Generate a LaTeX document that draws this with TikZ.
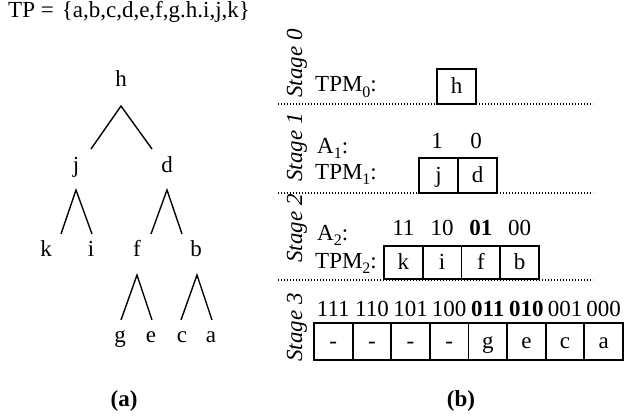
\documentclass[tikz,border=0pt]{standalone}
\usepackage{fontspec}
\setmainfont{Liberation Serif}
\newcommand\mysub[1]{\raisebox{-0.24em}{\fontsize{16}{16}\selectfont #1}}
\begin{document}
\begin{tikzpicture}[x=1pt,y=-1pt,
  every node/.style={font=\fontsize{23}{27}\selectfont, inner sep=0pt},
  lbl/.style={anchor=base},
  lblw/.style={anchor=base west},
  stagelbl/.style={rotate=90, anchor=base west, font=\fontsize{23}{27}\selectfont\itshape},
  cell/.style n args={2}{draw, line width=1.8pt, minimum width=#1, minimum height=#2, text height=15pt, text depth=2pt},
  tree/.style={line width=1.4pt},
  sep/.style={line width=1.3pt, dash pattern=on 1.3pt off 1.7pt}]
\useasboundingbox (0,0) rectangle (624,420);

% title
\node[lblw] (tp) at (8,18) {TP =\hspace{0.35em}\{a,b,c,d,e,f,g.h.i,j,k\}};

% tree
\node[lbl] (h) at (121,86) {h};
\node[lbl] (j) at (76,172) {j};
\node[lbl] (d) at (167,172) {d};
\node[lbl] (k) at (46,256) {k};
\node[lbl] (i) at (91,256) {i};
\node[lbl] (f) at (137,256) {f};
\node[lbl] (b) at (196,256) {b};
\node[lbl] (g) at (120,342) {g};
\node[lbl] (e) at (151,342) {e};
\node[lbl] (c) at (182,342) {c};
\node[lbl] (a) at (211,342) {a};

\coordinate (h-ap) at (121,106); \coordinate (h-l) at (91,149); \coordinate (h-r) at (152,149);
\coordinate (j-ap) at (76,190);  \coordinate (j-l) at (61,234); \coordinate (j-r) at (92,234);
\coordinate (d-ap) at (167,190); \coordinate (d-l) at (151,234); \coordinate (d-r) at (182,234);
\coordinate (f-ap) at (137,275); \coordinate (f-l) at (121,320); \coordinate (f-r) at (152,320);
\coordinate (b-ap) at (197,275); \coordinate (b-l) at (181,320); \coordinate (b-r) at (212,320);
\foreach \p in {h,j,d,f,b}{\draw[tree] (\p-l) -- (\p-ap) -- (\p-r);}

\node[lbl] (capa) at (124,406) {\textbf{(a)}};
\node[lbl] (capb) at (461,406) {\textbf{(b)}};

% stage labels
\node[stagelbl] (s0) at (302,98) {Stage 0};
\node[stagelbl] (s1) at (302,182) {Stage 1};
\node[stagelbl] (s2) at (302,263) {Stage 2};
\node[stagelbl] (s3) at (302,362) {Stage 3};

% separators
\draw[sep] (278,104) -- (593,104);
\draw[sep] (278,193) -- (593,193);
\draw[sep] (278,280) -- (593,280);

% stage 0
\node[lblw] (tpm0) at (315,92) {TPM\mysub{0}:};
\node[cell={39pt}{35pt}] (c0) at (456.5,86.5) {h};

% stage 1
\node[lblw] (a1) at (317,153) {A\mysub{1}:};
\node[lblw] (tpm1) at (315,179) {TPM\mysub{1}:};
\node[cell={39pt}{35pt}] (c10) at (438.5,175.5) {j};
\node[cell={39pt}{35pt}] (c11) at (477.5,175.5) {d};
\node[lbl] (b10) at (437,148) {1};
\node[lbl] (b11) at (476,148) {0};

% stage 2
\node[lblw] (a2) at (317,240) {A\mysub{2}:};
\node[lblw] (tpm2) at (315,268) {TPM\mysub{2}:};
\foreach \t/\n [count=\q from 0] in {k/11,i/10,f/\textbf{01},b/00}{
  \node[cell={38.75pt}{33pt}] (c2\q) at (403.375+38.75*\q,262.5) {\t};
  \node[lbl] (b2\q) at (403.375+38.75*\q,235) {\n};
}

% stage 3
\foreach \t/\n [count=\q from 0] in {-/111,-/110,-/101,-/100,g/\textbf{011},e/\textbf{010},c/001,a/000}{
  \node[cell={38.625pt}{37pt}] (c3\q) at (333.3125+38.625*\q,341.5) {\t};
  \node[lbl] (b3\q) at (333.3125+38.625*\q,316) {\n};
}
\end{tikzpicture}
\end{document}
